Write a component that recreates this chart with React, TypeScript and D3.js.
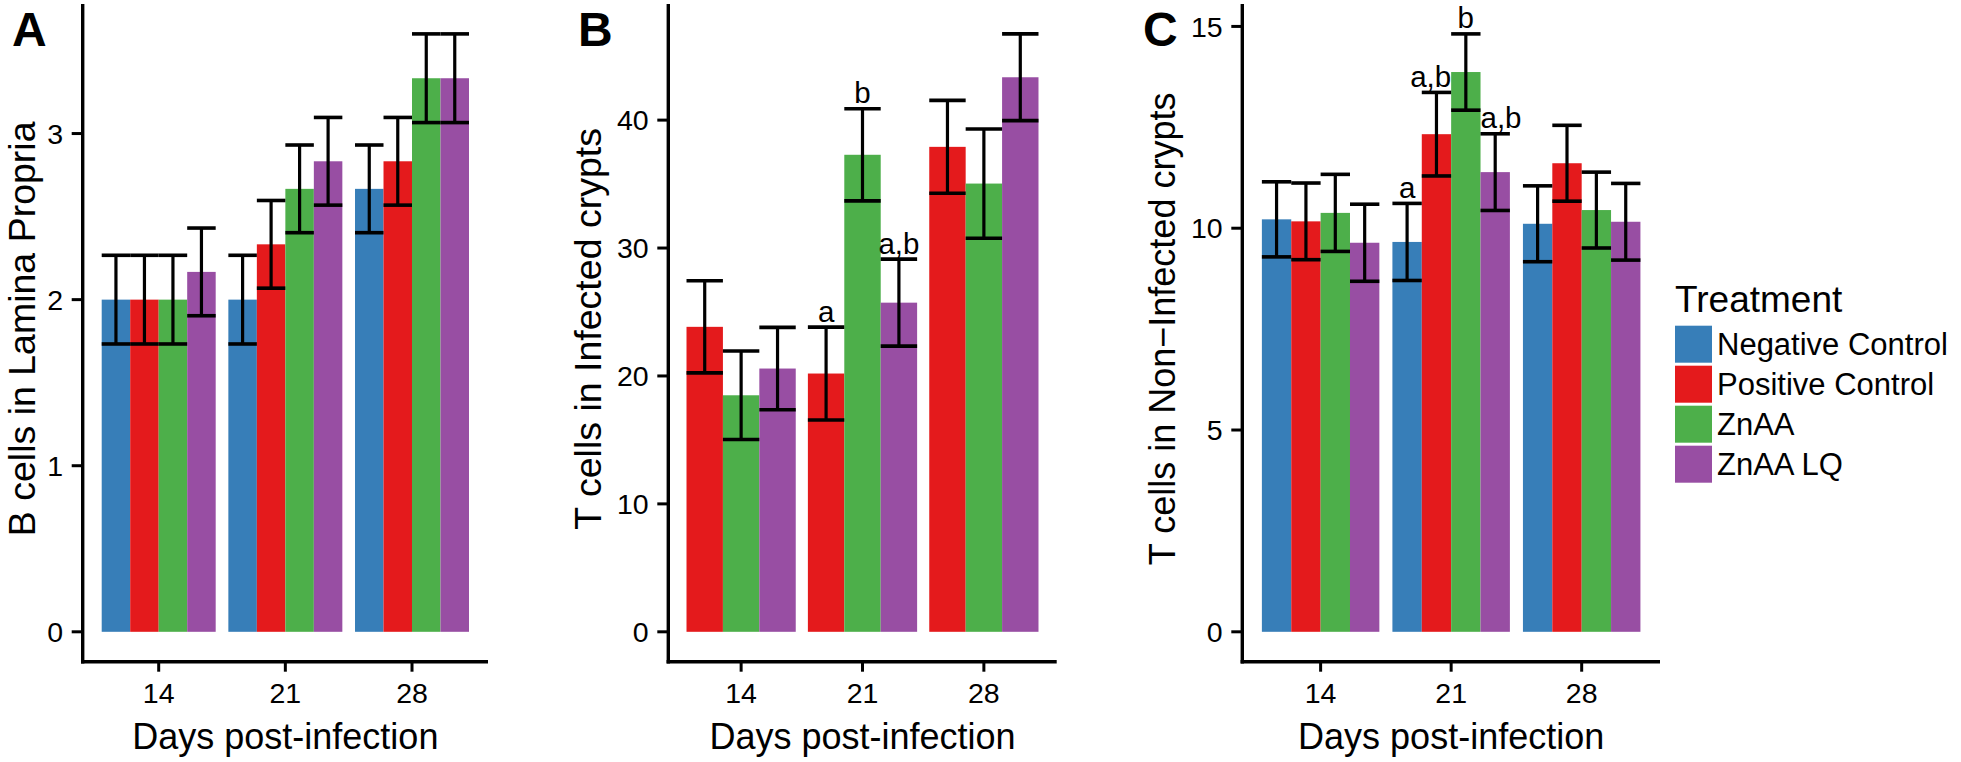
import React from "react";
import * as d3 from "d3";

const days = ["14", "21", "28"];
const treatments = ["Negative Control", "Positive Control", "ZnAA", "ZnAA LQ"];
const colors = ["#377EB8", "#E41A1C", "#4DAF4A", "#984EA3"];

// Panel A: B cells in Lamina Propria
const aNegMean = [2.0, 2.0, 2.667];
const aPosMean = [2.0, 2.333, 2.833];
const aZnMean = [2.0, 2.667, 3.333];
const aLqMean = [2.167, 2.833, 3.333];
const aNegSe = [0.267, 0.267, 0.264];
const aPosSe = [0.267, 0.264, 0.264];
const aZnSe = [0.267, 0.264, 0.267];
const aLqSe = [0.264, 0.264, 0.267];

// Panel B: T cells in Infected crypts (no Negative Control)
const bPosMean = [23.84, 20.19, 37.91];
const bZnMean = [18.49, 37.29, 35.04];
const bLqMean = [20.58, 25.73, 43.35];
const bPosSe = [3.6, 3.63, 3.63];
const bZnSe = [3.46, 3.6, 4.27];
const bLqSe = [3.22, 3.4, 3.39];

// Panel C: T cells in Non-Infected crypts
const cNegMean = [10.22, 9.66, 10.11];
const cPosMean = [10.17, 12.33, 11.61];
const cZnMean = [10.38, 13.87, 10.45];
const cLqMean = [9.64, 11.39, 10.16];
const cNegSe = [0.93, 0.955, 0.94];
const cPosSe = [0.95, 1.035, 0.94];
const cZnSe = [0.955, 0.945, 0.94];
const cLqSe = [0.955, 0.95, 0.95];

const aTicks = [0, 1, 2, 3];
const bTicks = [0, 10, 20, 30, 40];
const cTicks = [0, 5, 10, 15];

// significance letters: [day, treatment, label]
const bLetters: [string, string, string][] = [
  ["21", "Positive Control", "a"],
  ["21", "ZnAA", "b"],
  ["21", "ZnAA LQ", "a,b"],
];
const cLetters: [string, string, string][] = [
  ["21", "Negative Control", "a"],
  ["21", "Positive Control", "a,b"],
  ["21", "ZnAA", "b"],
  ["21", "ZnAA LQ", "a,b"],
];

type Series = { name: string; mean: number[]; se: number[] };

const panelASeries: Series[] = [
  { name: treatments[0], mean: aNegMean, se: aNegSe },
  { name: treatments[1], mean: aPosMean, se: aPosSe },
  { name: treatments[2], mean: aZnMean, se: aZnSe },
  { name: treatments[3], mean: aLqMean, se: aLqSe },
];
const panelBSeries: Series[] = [
  { name: treatments[1], mean: bPosMean, se: bPosSe },
  { name: treatments[2], mean: bZnMean, se: bZnSe },
  { name: treatments[3], mean: bLqMean, se: bLqSe },
];
const panelCSeries: Series[] = [
  { name: treatments[0], mean: cNegMean, se: cNegSe },
  { name: treatments[1], mean: cPosMean, se: cPosSe },
  { name: treatments[2], mean: cZnMean, se: cZnSe },
  { name: treatments[3], mean: cLqMean, se: cLqSe },
];

const FONT = "'Liberation Sans', Arial, Helvetica, sans-serif";
const TOP = 4;
const BOTTOM = 661.7;

type PanelProps = {
  letter: string;
  letterX: number;
  left: number;
  right: number;
  series: Series[];
  ticks: number[];
  yTitle: string;
  yTitleSize: number;
  letters?: [string, string, string][];
  letterAnchor?: Record<string, string>;
};

function Panel({
  letter,
  letterX,
  left,
  right,
  series,
  ticks,
  yTitle,
  yTitleSize,
  letters = [],
  letterAnchor = {},
}: PanelProps) {
  const maxV = d3.max(series.flatMap((s) => s.mean.map((m, i) => m + s.se[i]))) as number;
  const pad = maxV * 0.05;
  const y = d3.scaleLinear().domain([-pad, maxV + pad]).range([BOTTOM, TOP]);
  const x = d3.scaleBand<string>().domain(days).range([left, right]).paddingInner(0.1).paddingOuter(0.15);
  const inner = d3
    .scaleBand<string>()
    .domain(series.map((s) => s.name))
    .range([0, x.bandwidth()])
    .padding(0);
  const bw = inner.bandwidth();
  const tickFont = 28.5;
  const maxChars = d3.max(ticks.map((t) => String(t).length)) as number;
  const labelW = maxChars * 0.556 * tickFont;
  const titleX = Math.max(left - 19.7 - labelW - 16.3, 35);
  const midY = (TOP + BOTTOM) / 2 - 4;

  return (
    <g>
      {series.map((s) =>
        days.map((d, i) => {
          const bx = (x(d) as number) + (inner(s.name) as number);
          return (
            <rect
              key={s.name + d}
              x={bx}
              y={y(s.mean[i])}
              width={bw}
              height={y(0) - y(s.mean[i])}
              fill={colors[treatments.indexOf(s.name)]}
            />
          );
        })
      )}
      {series.map((s) =>
        days.map((d, i) => {
          const bx = (x(d) as number) + (inner(s.name) as number);
          const cx = bx + bw / 2;
          const hi = y(s.mean[i] + s.se[i]);
          const lo = y(s.mean[i] - s.se[i]);
          return (
            <g key={"e" + s.name + d} stroke="#000">
              <line x1={cx} x2={cx} y1={hi} y2={lo} strokeWidth={3.2} />
              <line x1={bx} x2={bx + bw} y1={hi} y2={hi} strokeWidth={3.6} />
              <line x1={bx} x2={bx + bw} y1={lo} y2={lo} strokeWidth={3.6} />
            </g>
          );
        })
      )}
      {letters.map(([d, t, lab]) => {
        const s = series.find((ss) => ss.name === t) as Series;
        const i = days.indexOf(d);
        const bx = (x(d) as number) + (inner(t) as number);
        const anchor = letterAnchor[t] || "middle";
        const tx = anchor === "end" ? bx + bw : anchor === "start" ? bx : bx + bw / 2;
        return (
          <text
            key={"l" + d + t}
            x={tx}
            y={y(s.mean[i] + s.se[i]) - 5.5}
            textAnchor={anchor}
            fontSize={29.5}
            fontFamily={FONT}
            fill="#000"
          >
            {lab}
          </text>
        );
      })}
      {/* axes */}
      <line x1={left} x2={left} y1={TOP} y2={BOTTOM + 1.7} stroke="#000" strokeWidth={3.4} />
      <line x1={left - 1.7} x2={right} y1={BOTTOM} y2={BOTTOM} stroke="#000" strokeWidth={3.4} />
      {ticks.map((t) => (
        <g key={"yt" + t}>
          <line x1={left - 11} x2={left} y1={y(t)} y2={y(t)} stroke="#000" strokeWidth={3} />
          <text
            x={left - 19.7}
            y={y(t)}
            dy="0.36em"
            textAnchor="end"
            fontSize={tickFont}
            fontFamily={FONT}
            fill="#000"
          >
            {t}
          </text>
        </g>
      ))}
      {days.map((d) => {
        const cx = (x(d) as number) + x.bandwidth() / 2;
        return (
          <g key={"xt" + d}>
            <line x1={cx} x2={cx} y1={BOTTOM} y2={BOTTOM + 10} stroke="#000" strokeWidth={3} />
            <text x={cx} y={702.7} textAnchor="middle" fontSize={tickFont} fontFamily={FONT} fill="#000">
              {d}
            </text>
          </g>
        );
      })}
      <text x={(left + right) / 2} y={749} textAnchor="middle" fontSize={36} fontFamily={FONT} fill="#000">
        Days post-infection
      </text>
      <text
        transform={`translate(${titleX},${midY}) rotate(-90)`}
        textAnchor="middle"
        fontSize={yTitleSize}
        fontFamily={FONT}
        fill="#000"
      >
        {yTitle}
      </text>
      <text x={letterX} y={46} fontSize={48} fontWeight="bold" fontFamily={FONT} fill="#000">
        {letter}
      </text>
    </g>
  );
}

export default function App() {
  return (
    <svg
      width={1961}
      height={762}
      viewBox="0 0 1961 762"
      style={{ position: "absolute", left: 0, top: 0, background: "#fff" }}
    >
      <rect x={0} y={0} width={1961} height={762} fill="#fff" />
      <Panel
        letter="A"
        letterX={12}
        left={82.7}
        right={488}
        series={panelASeries}
        ticks={aTicks}
        yTitle="B cells in Lamina Propria"
        yTitleSize={37.5}
      />
      <Panel
        letter="B"
        letterX={578}
        left={668.3}
        right={1056.7}
        series={panelBSeries}
        ticks={bTicks}
        yTitle="T cells in Infected crypts"
        yTitleSize={37.5}
        letters={bLetters}
      />
      <Panel
        letter="C"
        letterX={1143}
        left={1242.3}
        right={1660}
        series={panelCSeries}
        ticks={cTicks}
        yTitle="T cells in Non−Infected crypts"
        yTitleSize={36}
        letters={cLetters}
        letterAnchor={{ "Positive Control": "end", "ZnAA LQ": "start" }}
      />
      <g>
        <text x={1675} y={311.7} fontSize={37} fontFamily={FONT} fill="#000">
          Treatment
        </text>
        {treatments.map((t, i) => (
          <g key={t}>
            <rect x={1675} y={325.7 + i * 40} width={37} height={37} fill={colors[i]} />
            <text
              x={1717}
              y={325.7 + i * 40 + 18.5}
              dy="0.36em"
              fontSize={31}
              fontFamily={FONT}
              fill="#000"
            >
              {t}
            </text>
          </g>
        ))}
      </g>
    </svg>
  );
}
